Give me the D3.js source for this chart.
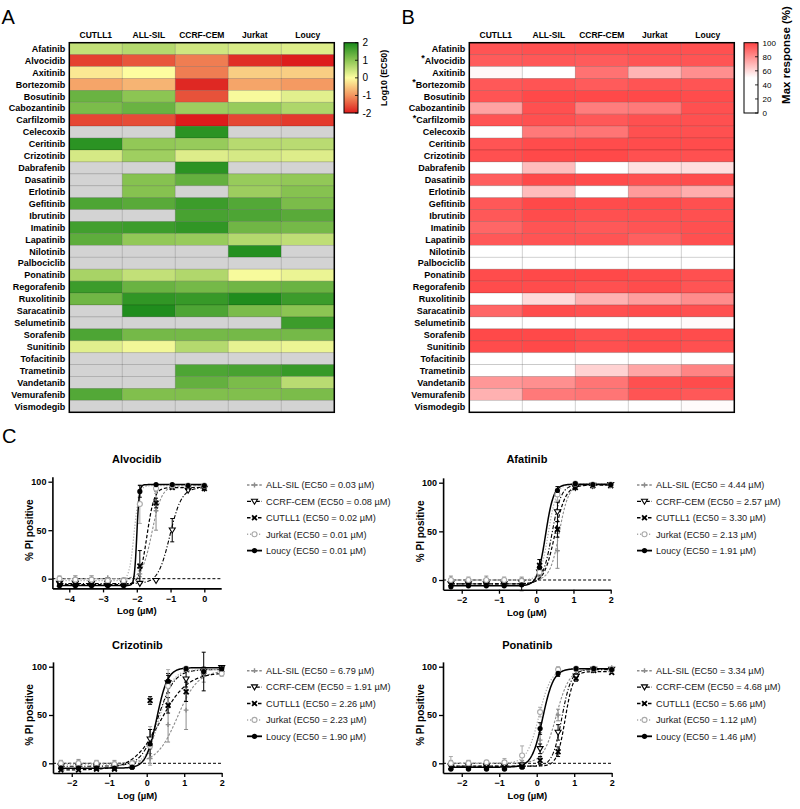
<!DOCTYPE html>
<html><head><meta charset="utf-8">
<script src="https://cdn.jsdelivr.net/npm/d3@7"></script>
<style>body{margin:0;background:#fff}svg{display:block;font-family:"Liberation Sans",Arial,sans-serif}</style>
</head><body><svg id="fig" width="800" height="809"></svg>
<script>
// ---------- DATA ----------
const cellLines = ["CUTLL1","ALL-SIL","CCRF-CEM","Jurkat","Loucy"];
const drugs = ["Afatinib","Alvocidib","Axitinib","Bortezomib","Bosutinib","Cabozantinib","Carfilzomib","Celecoxib","Ceritinib","Crizotinib","Dabrafenib","Dasatinib","Erlotinib","Gefitinib","Ibrutinib","Imatinib","Lapatinib","Nilotinib","Palbociclib","Ponatinib","Regorafenib","Ruxolitinib","Saracatinib","Selumetinib","Sorafenib","Sunitinib","Tofacitinib","Trametinib","Vandetanib","Vemurafenib","Vismodegib"];
const starredDrugs = ["Alvocidib","Bortezomib","Carfilzomib"];
// Log10(EC50), null = not reached (grey)
const log10EC50 = [
 [0.52,0.65,0.41,0.33,0.28],
 [-1.7,-1.52,-1.2,-1.85,-2.0],
 [-0.2,0.0,-1.2,-0.45,-0.45],
 [-0.85,-0.7,-1.9,-0.85,-0.95],
 [1.3,1.0,-1.55,0.05,0.25],
 [1.15,1.3,0.85,0.9,0.7],
 [-1.65,-1.6,-2.0,-1.65,-1.75],
 [null,null,1.85,null,null],
 [1.85,0.95,0.9,0.62,0.6],
 [0.35,0.83,0.28,0.35,0.28],
 [null,null,1.85,null,null],
 [null,1.05,1.35,0.9,0.95],
 [null,1.05,null,0.85,1.05],
 [1.55,1.45,1.7,1.5,1.15],
 [null,null,1.6,1.55,1.45],
 [1.65,1.7,1.8,1.25,1.2],
 [1.4,0.95,0.9,0.65,0.55],
 [null,null,null,1.9,null],
 [null,null,null,null,null],
 [0.75,0.52,0.67,0.05,0.16],
 [1.7,1.3,1.2,1.25,1.3],
 [1.25,1.8,1.75,1.95,1.7],
 [null,1.95,1.55,1.15,1.0],
 [null,null,null,null,1.7],
 [1.55,1.2,1.2,1.2,1.2],
 [0.25,0.1,0.65,0.2,0.15],
 [null,null,null,null,null],
 [null,null,1.55,1.6,1.75],
 [null,null,1.35,1.15,0.6],
 [1.5,1.1,1.1,1.1,1.15],
 [null,null,null,null,null]
];
// Max response (%)
const maxResponse = [
 [96,97,97,97,97],
 [94,95,94,96,96],
 [52,40,88,70,80],
 [95,96,94,96,96],
 [96,99,99,99,98],
 [75,97,85,86,97],
 [96,97,95,97,97],
 [30,86,87,97,97],
 [96,98,98,98,98],
 [97,99,99,97,97],
 [20,68,20,58,59],
 [93,99,98,97,98],
 [20,68,20,77,72],
 [95,99,98,98,97],
 [95,98,97,97,97],
 [91,96,95,96,97],
 [95,96,96,93,97],
 [20,20,20,20,20],
 [20,20,20,20,20],
 [98,99,99,98,97],
 [98,98,97,98,96],
 [40,60,71,76,81],
 [91,98,97,98,97],
 [30,30,30,30,51],
 [99,99,97,98,98],
 [98,99,97,98,97],
 [20,20,20,20,20],
 [30,30,62,74,83],
 [78,80,87,97,98],
 [71,86,87,96,95],
 [20,20,20,20,51]
];
const colorTicksA = [2,1,0,-1,-2];
const colorTicksB = [100,80,60,40,20,0];

// Dose-response data (legend order)
const seriesNames = ["ALL-SIL","CCRF-CEM","CUTLL1","Jurkat","Loucy"];
const dosesAlvocidib = [-4.29,-3.82,-3.34,-2.86,-2.39,-1.91,-1.43,-0.95,-0.48,0];
const dosesOther = [-2.29,-1.82,-1.34,-0.86,-0.39,0.09,0.57,1.05,1.52,2.0];

const alvocidibMean = [
 [-1,0,0,1,-1,5,70,95,95,96],
 [-5,-5,-5,-5,-5,-5,-2,50,91,93],
 [-6,-6,-6,-6,-6,13,78,94,94,93],
 [0,-1,-1,-2,-2,77,93,96,96,96],
 [-7,-7,-7,-7,-7,90,97,97,96,96]];
const alvocidibSD = [
 [3,3,3,2,2,3,20,3,2,2],
 [1,1,1,1,1,1,1,12,2,2],
 [2,2,2,2,2,16,5,2,2,2],
 [3,4,4,3,3,20,5,2,2,2],
 [2,2,2,2,2,6,2,2,2,2]];
const alvocidibFit = [[0,96,-1.55,3],[-5,94,-1.02,2.5],[-6,94,-1.7,4],[-2,96,-2.08,6],[-7,97,-2.0,12]];
const alvocidibEC50 = ["0.03","0.08","0.02","0.01","0.01"];

const afatinibMean = [
 [1,0,1,0,0,5,30,96,98,98],
 [-4,-4,-4,-4,-3,8,70,95,97,98],
 [-4,-4,-4,-4,-3,15,52,95,97,97],
 [0,0,0,0,-1,8,88,99,98,98],
 [-7,-6,-6,-6,-5,13,92,99,98,98]];
const afatinibSD = [
 [3,3,3,3,3,3,18,2,1,1],
 [2,2,2,2,2,4,10,2,1,1],
 [2,2,2,2,3,6,8,2,1,1],
 [2,2,2,2,3,4,6,1,1,1],
 [2,2,2,2,6,8,4,1,1,1]];
const afatinibFit = [[0,98,0.62,3.5],[-4,98,0.42,3.5],[-4,97.5,0.5,3],[0,98.5,0.33,4],[-6,98.5,0.25,4]];
const afatinibEC50 = ["4.44","2.57","3.30","2.13","1.91"];

const crizotinibMean = [
 [0,1,0,0,0,5,40,55,92,98],
 [-3,-3,-3,-3,-2,25,83,87,95,99],
 [-7,-7,-6,-6,-3,65,60,74,95,97],
 [0,0,0,-1,0,18,80,98,95,93],
 [-5,-5,-5,-5,-4,20,85,98,95,98]];
const crizotinibSD = [
 [3,3,3,3,3,5,18,20,8,2],
 [2,2,2,2,2,10,10,8,4,2],
 [2,2,2,2,3,4,8,10,4,2],
 [3,3,3,3,3,20,17,2,3,3],
 [2,2,2,2,2,15,6,2,20,2]];
const crizotinibFit = [[0,96,0.82,1.6],[-3,97,0.3,2],[-7,94,0.36,1.2],[-1,97,0.35,2.5],[-5,99,0.27,3]];
const crizotinibEC50 = ["6.79","1.91","2.26","2.23","1.90"];

const ponatinibMean = [
 [0,0,0,0,0,24,50,92,98,99],
 [-3,-3,-3,-3,-2,15,32,90,97,97],
 [-4,-4,-4,-4,-3,3,12,88,96,94],
 [0,0,1,1,8,53,97,98,98,97],
 [-6,-6,-6,-6,-4,36,93,98,98,97]];
const ponatinibSD = [
 [3,3,3,3,3,8,6,3,2,2],
 [3,3,3,3,3,5,8,3,2,2],
 [3,3,3,3,2,4,5,3,2,2],
 [7,3,2,4,10,5,3,2,2,2],
 [2,2,2,2,2,6,3,2,2,2]];
const ponatinibFit = [[0,98,0.52,2.5],[-3,97,0.67,3.5],[-3,95,0.76,4],[0,98,0.06,2.7],[-4,98,0.16,3]];
const ponatinibEC50 = ["3.34","4.68","5.66","1.12","1.46"];

// ---------- DRAWING ----------
const svg = d3.select("#fig");
svg.append("rect").attr("width",800).attr("height",809).attr("fill","#fff");
const defs = svg.append("defs");

function panelLetter(t,x,y){
  svg.append("text").attr("x",x).attr("y",y).attr("font-size",20).attr("fill","#000").text(t);
}
panelLetter("A",1.5,24); panelLetter("B",401.5,24); panelLetter("C",2,443);

const colorA = d3.scaleLinear().domain([-2,-1,0,1,2])
  .range(["#dd1c1c","#f3955f","#fdfda0","#8cc553","#1a8a1a"]).clamp(true);
const colorB = d3.scaleLinear().domain([0,50,100]).range(["#ffffff","#ffffff","#ff4545"]).clamp(true);

function heatmap(opt){
  const x = d3.scaleBand().domain(cellLines).range([opt.x0,opt.x1]);
  const y = d3.scaleBand().domain(drugs).range([42.7,412.3]);
  const g = svg.append("g");
  const cells = [];
  drugs.forEach((d,i)=>cellLines.forEach((c,j)=>cells.push({d,c,v:opt.values[i][j]})));
  g.selectAll("rect.cell").data(cells).join("rect").attr("class","cell")
    .attr("x",e=>x(e.c)).attr("y",e=>y(e.d))
    .attr("width",x.bandwidth()).attr("height",y.bandwidth())
    .attr("fill",e=>e.v==null?"#d3d3d3":opt.color(e.v))
    .attr("stroke","rgba(0,0,0,0.17)").attr("stroke-width",0.8);
  g.append("rect").attr("x",opt.x0).attr("y",42.7).attr("width",opt.x1-opt.x0).attr("height",412.3-42.7)
    .attr("fill","none").attr("stroke","#000").attr("stroke-width",1.5);
  g.selectAll("text.col").data(cellLines).join("text").attr("class","col")
    .attr("x",c=>x(c)+x.bandwidth()/2).attr("y",37.5).attr("text-anchor","middle")
    .attr("font-size",8.5).attr("font-weight","bold").text(c=>c);
  const rl = g.selectAll("text.row").data(drugs).join("text").attr("class","row")
    .attr("x",opt.x0-4).attr("y",d=>y(d)+y.bandwidth()/2+3.2).attr("text-anchor","end")
    .attr("font-size",9).attr("font-weight","bold");
  rl.each(function(d){
    const t = d3.select(this);
    if(opt.stars && starredDrugs.includes(d)){
      t.append("tspan").attr("dy",-2.5).text("*");
      t.append("tspan").attr("dy",2.5).text(d);
    } else t.text(d);
  });
  const lg = defs.append("linearGradient").attr("id",opt.id).attr("x1",0).attr("y1",0).attr("x2",0).attr("y2",1);
  opt.stops.forEach(s=>lg.append("stop").attr("offset",s[0]).attr("stop-color",s[1]));
  const ly = d3.scaleLinear().domain(opt.legendDomain).range([113,42.7]);
  g.append("rect").attr("x",opt.lx).attr("y",42.7).attr("width",14).attr("height",113-42.7)
    .attr("fill",`url(#${opt.id})`).attr("stroke","#000").attr("stroke-width",1);
  opt.ticks.forEach(t=>{
    g.append("line").attr("x1",opt.lx+14).attr("x2",opt.lx+11).attr("y1",ly(t)).attr("y2",ly(t)).attr("stroke","#000").attr("stroke-width",0.8);
    g.append("text").attr("x",opt.lx+18.5).attr("y",ly(t)+opt.tickFs*0.36).attr("font-size",opt.tickFs).text(t);
  });
  g.append("text").attr("transform",`translate(${opt.titleX},${opt.titleY}) rotate(-90)`)
    .attr("text-anchor","middle").attr("font-size",opt.titleFs).attr("font-weight","bold").text(opt.title);
}

heatmap({x0:69.3,x1:334.3,values:log10EC50,color:colorA,id:"gA",stars:false,
  stops:[[0,colorA(2)],[0.25,colorA(1)],[0.5,colorA(0)],[0.75,colorA(-1)],[1,colorA(-2)]],
  legendDomain:[-2,2],ticks:colorTicksA,lx:344,tickFs:10,title:"Log10 (EC50)",titleX:386.5,titleY:78,titleFs:8.8});
heatmap({x0:469.3,x1:734.3,values:maxResponse,color:colorB,id:"gB",stars:true,
  stops:[[0,colorB(100)],[0.5,colorB(50)],[1,colorB(0)]],
  legendDomain:[0,100],ticks:colorTicksB,lx:744,tickFs:8,title:"Max response (%)",titleX:789.5,titleY:55,titleFs:11.5});

const seriesStyle = [
  {color:"#8c8c8c",dash:"2.5,1.6",marker:"plus",w:1.1},
  {color:"#000",dash:"4,1.8,1.2,1.8",marker:"tri",w:1.1},
  {color:"#000",dash:"3.5,2",marker:"x",w:1.2},
  {color:"#a9a9a9",dash:"1.2,1.8",marker:"ocircle",w:1.2},
  {color:"#000",dash:null,marker:"circle",w:1.5}
];
function drawMarker(g,type,cx,cy,color){
  if(type==="circle") g.append("circle").attr("cx",cx).attr("cy",cy).attr("r",2.6).attr("fill",color);
  else if(type==="ocircle") g.append("circle").attr("cx",cx).attr("cy",cy).attr("r",2.5).attr("fill","#fff").attr("stroke",color).attr("stroke-width",1.1);
  else if(type==="tri") g.append("path").attr("d",`M${cx-3},${cy-2.2}L${cx+3},${cy-2.2}L${cx},${cy+2.8}Z`).attr("fill","#fff").attr("stroke",color).attr("stroke-width",1.1);
  else if(type==="x") g.append("path").attr("d",`M${cx-2.4},${cy-2.4}L${cx+2.4},${cy+2.4}M${cx-2.4},${cy+2.4}L${cx+2.4},${cy-2.4}`).attr("stroke",color).attr("stroke-width",1.8);
  else if(type==="plus") g.append("path").attr("d",`M${cx-2.4},${cy}L${cx+2.4},${cy}M${cx},${cy-2.4}L${cx},${cy+2.4}`).attr("stroke",color).attr("stroke-width",1.4);
}
function drawDR(c){
  const g = svg.append("g");
  const x = d3.scaleLinear().domain(c.xDomain).range(c.xRange);
  const y = d3.scaleLinear().domain([0,100]).range([c.y0,c.y100]);
  const yb = y(-10), yt = y(105);
  g.append("text").attr("x",(c.xRange[0]+c.xRange[1])/2).attr("y",c.titleY).attr("text-anchor","middle")
    .attr("font-size",11).attr("font-weight","bold").text(c.title);
  g.append("line").attr("x1",c.xRange[0]).attr("x2",c.xRange[1]).attr("y1",y(0)).attr("y2",y(0))
    .attr("stroke","#000").attr("stroke-width",1).attr("stroke-dasharray","3,2");
  const fit = (p,v)=>p[0]+(p[1]-p[0])/(1+Math.pow(10,(p[2]-v)*p[3]));
  const xmin = d3.min(c.doses), xmax = d3.max(c.doses);
  const samples = d3.range(0,401).map(i=>xmin+(xmax-xmin)*i/400);
  const line = d3.line().x(v=>x(v[0])).y(v=>y(v[1]));
  seriesNames.forEach((s,k)=>{
    const st = seriesStyle[k];
    c.doses.forEach((d,i)=>{
      const m=c.mean[k][i], sd=c.sd[k][i];
      if(sd>2.5){
        const px=x(d);
        g.append("path").attr("d",`M${px},${y(m-sd)}L${px},${y(m+sd)}M${px-2},${y(m-sd)}L${px+2},${y(m-sd)}M${px-2},${y(m+sd)}L${px+2},${y(m+sd)}`)
          .attr("stroke",st.color).attr("stroke-width",1).attr("fill","none");
      }
    });
    g.append("path").datum(samples.map(v=>[v,fit(c.fit[k],v)])).attr("d",line)
      .attr("fill","none").attr("stroke",st.color).attr("stroke-width",st.w)
      .attr("stroke-dasharray",st.dash);
  });
  seriesNames.forEach((s,k)=>{
    const st = seriesStyle[k];
    c.doses.forEach((d,i)=>drawMarker(g,st.marker,x(d),y(c.mean[k][i]),st.color));
  });
  const ax = g.append("g").attr("transform",`translate(0,${yb})`)
    .call(d3.axisBottom(x).tickValues(c.xTicks).tickFormat(d3.format("d")).tickSize(4).tickSizeOuter(0).tickPadding(3));
  const ay = g.append("g").attr("transform",`translate(${c.xRange[0]},0)`)
    .call(d3.axisLeft(d3.scaleLinear().domain([-10,105]).range([yb,yt])).tickValues([0,50,100]).tickFormat(d3.format("d")).tickSize(4).tickSizeOuter(0).tickPadding(2));
  [ax,ay].forEach(a=>{
    a.select(".domain").attr("stroke-width",1.6);
    a.selectAll(".tick line").attr("stroke-width",1.3);
    a.selectAll("text").attr("font-size",9).attr("font-weight","bold").attr("font-family","Liberation Sans, Arial, sans-serif");
  });
  g.append("text").attr("x",(c.xRange[0]+c.xRange[1])/2).attr("y",yb+26).attr("text-anchor","middle")
    .attr("font-size",9.5).attr("font-weight","bold").text("Log (µM)");
  g.append("text").attr("transform",`translate(${c.ylabX},${(y(0)+y(100))/2}) rotate(-90)`).attr("text-anchor","middle")
    .attr("font-size",10).attr("font-weight","bold").text("% PI positive");
  seriesNames.forEach((s,k)=>{
    const st = seriesStyle[k];
    const ly = c.legY + k*16.4;
    g.append("line").attr("x1",c.legX).attr("x2",c.legX+15).attr("y1",ly).attr("y2",ly)
      .attr("stroke",st.color).attr("stroke-width",st.w+0.3).attr("stroke-dasharray",st.dash);
    drawMarker(g,st.marker,c.legX+7.5,ly,st.color);
    g.append("text").attr("x",c.legX+19).attr("y",ly+3.3).attr("font-size",9.2).attr("fill","#222")
      .text(`${s} (EC50 = ${c.ec50[k]} µM)`);
  });
}
drawDR({title:"Alvocidib",xDomain:[-4.5,0.5],xRange:[52.4,221.2],y0:578.7,y100:481.7,titleY:463,
  xTicks:[-4,-3,-2,-1,0],doses:dosesAlvocidib,mean:alvocidibMean,sd:alvocidibSD,fit:alvocidibFit,ec50:alvocidibEC50,
  legX:247,legY:485,ylabX:33});
drawDR({title:"Afatinib",xDomain:[-2.5,2],xRange:[443.1,610.7],y0:580,y100:482.7,titleY:463,
  xTicks:[-2,-1,0,1,2],doses:dosesOther,mean:afatinibMean,sd:afatinibSD,fit:afatinibFit,ec50:afatinibEC50,
  legX:637,legY:485,ylabX:423.5});
drawDR({title:"Crizotinib",xDomain:[-2.5,2],xRange:[53,221.7],y0:763.3,y100:666.7,titleY:649,
  xTicks:[-2,-1,0,1,2],doses:dosesOther,mean:crizotinibMean,sd:crizotinibSD,fit:crizotinibFit,ec50:crizotinibEC50,
  legX:247,legY:670.7,ylabX:33});
drawDR({title:"Ponatinib",xDomain:[-2.5,2],xRange:[443,611.7],y0:763.3,y100:666.7,titleY:649,
  xTicks:[-2,-1,0,1,2],doses:dosesOther,mean:ponatinibMean,sd:ponatinibSD,fit:ponatinibFit,ec50:ponatinibEC50,
  legX:637,legY:670.7,ylabX:423.5});
</script></body></html>
